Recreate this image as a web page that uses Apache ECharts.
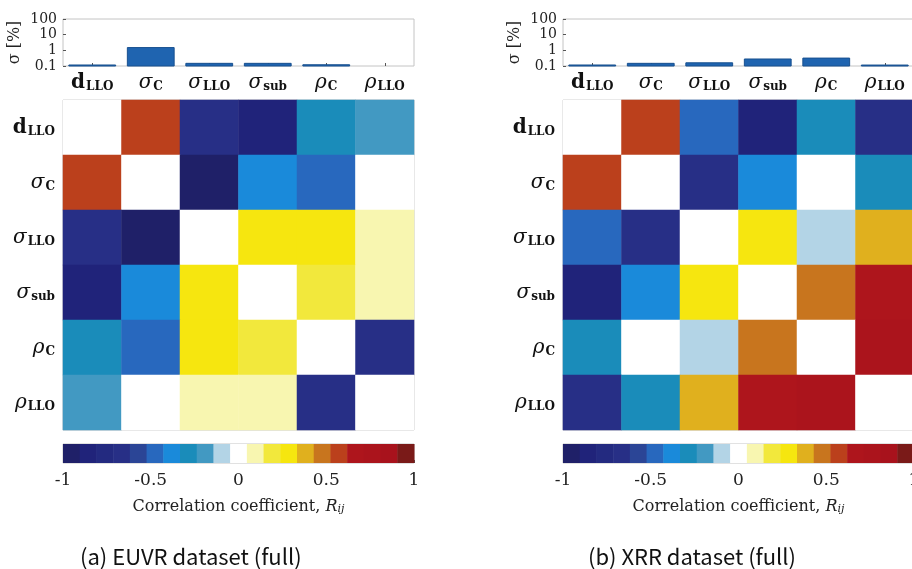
<!DOCTYPE html>
<html>
<head>
<meta charset="utf-8">
<script src="https://cdn.jsdelivr.net/npm/echarts@6/dist/echarts.min.js"></script>
<style>
  html, body { margin: 0; padding: 0; background: #fff; }
  #main { width: 912px; height: 569px; }
</style>
</head>
<body>
<div id="main"></div>
<script>
// parameter names (order of rows / columns)
var paramNames = ['dLLO', 'sigmaC', 'sigmaLLO', 'sigmaSub', 'rhoC', 'rhoLLO'];

// fitted uncertainty sigma [%]
var sigmaEUVR = [0.116, 1.5, 0.148, 0.148, 0.12, 0.1];
var sigmaXRR = [0.116, 0.148, 0.16, 0.28, 0.32, 0.115];

// correlation matrices (row = y, col = x), diagonal shown blank
var corrEUVR = [
  [0, 0.57, -0.67, -0.86, -0.29, -0.19],
  [0.57, 0, -0.95, -0.38, -0.48, 0],
  [-0.67, -0.95, 0, 0.29, 0.29, 0.1],
  [-0.86, -0.38, 0.29, 0, 0.19, 0.1],
  [-0.29, -0.48, 0.29, 0.19, 0, -0.67],
  [-0.19, 0, 0.1, 0.1, -0.67, 0]
];
var corrXRR = [
  [0, 0.57, -0.48, -0.86, -0.29, -0.67],
  [0.57, 0, -0.67, -0.38, 0, -0.29],
  [-0.48, -0.67, 0, 0.29, -0.1, 0.38],
  [-0.86, -0.38, 0.29, 0, 0.48, 0.67],
  [-0.29, 0, -0.1, 0.48, 0, 0.76],
  [-0.67, -0.29, 0.38, 0.67, 0.76, 0]
];

var sigmaTicks = [0.1, 1, 10, 100];
var colorTicks = [-1, -0.5, 0, 0.5, 1];

// 21-step diverging colour map, -1 .. 1
var palette = ['#1f2068', '#20237a', '#232a80', '#272f86', '#2b4596', '#2868be', '#1a8ada',
  '#1a8cba', '#4299c2', '#b3d4e6', '#ffffff', '#f8f6b0', '#f2e83c', '#f6e60f', '#e0b01e',
  '#c8751e', '#bb401c', '#ae151c', '#ab141c', '#a8121c', '#7a1a18'];
var nBins = palette.length;
var binW = 2 / nBins;

var pieces = palette.map(function (c, k) {
  return { min: -1 + k * binW, max: -1 + (k + 1) * binW, color: c };
});
var cbData = palette.map(function (c, k) {
  return [-1 + k * binW, -1 + (k + 1) * binW, k];
});

var serif = '"DejaVu Serif", "Liberation Serif", serif';
var labelRich = {
  dLLO: '{b|d}{bs|LLO}',
  sigmaC: '{m|σ}{s|C}',
  sigmaLLO: '{m|σ}{s|LLO}',
  sigmaSub: '{m|σ}{s|sub}',
  rhoC: '{m|ρ}{s|C}',
  rhoLLO: '{m|ρ}{s|LLO}'
};
var rich = {
  b: { fontFamily: serif, fontSize: 20, fontWeight: 'bold', color: '#111', verticalAlign: 'bottom' },
  bs: { fontFamily: serif, fontSize: 12, fontWeight: 'bold', color: '#111', verticalAlign: 'bottom', padding: [9, 0, 0, 1] },
  m: { fontFamily: serif, fontSize: 20, fontStyle: 'italic', color: '#111', verticalAlign: 'bottom' },
  s: { fontFamily: serif, fontSize: 12, fontWeight: 'bold', color: '#111', verticalAlign: 'bottom', padding: [9, 0, 0, 1] }
};
function fmtParam(v) { return labelRich[v]; }

var frameColor = '#c4c4c4';
var panels = [
  { left: 63, sigma: sigmaEUVR, corr: corrEUVR, caption: '(a) EUVR dataset (full)', capX: 75 },
  { left: 563, sigma: sigmaXRR, corr: corrXRR, caption: '(b) XRR dataset (full)', capX: 583 }
];
var W = 351;

function gridOf(left, top, h) {
  return {
    left: left, top: top, width: W, height: h, show: true, outerBoundsMode: 'none', containLabel: false,
    borderColor: frameColor, borderWidth: 1, backgroundColor: 'transparent'
  };
}

var grids = [], xAxes = [], yAxes = [], series = [], titles = [], heatIdx = [];
panels.forEach(function (p, i) {
  var g = i * 3;
  grids.push(gridOf(p.left, 19, 47), gridOf(p.left, 100, 330), gridOf(p.left, 444, 19));
  // bar chart axes
  xAxes.push({
    gridIndex: g, type: 'category', data: paramNames,
    axisLine: { show: false }, axisTick: { show: true, inside: true, alignWithLabel: true, length: 3, lineStyle: { color: '#555' } },
    axisLabel: { formatter: fmtParam, rich: rich, margin: 6, interval: 0 }
  });
  yAxes.push({
    gridIndex: g, type: 'log', logBase: 10, min: 0.1, max: 100,
    name: 'σ [%]', nameLocation: 'middle', nameGap: 40, nameRotate: 90,
    nameTextStyle: { fontFamily: serif, fontSize: 16, color: '#222' },
    axisLine: { show: false }, splitLine: { show: false },
    axisTick: { show: true, inside: true, length: 3, lineStyle: { color: '#555' } },
    axisLabel: {
      fontFamily: serif, fontSize: 14, color: '#222', margin: 6, showMinLabel: true,
      formatter: function (v) { var t = +(+v).toPrecision(3); return sigmaTicks.indexOf(t) >= 0 ? String(t) : ''; }
    }
  });
  series.push({
    type: 'custom', xAxisIndex: g, yAxisIndex: g, silent: true,
    data: p.sigma.map(function (v, k) { return [k, v]; }),
    renderItem: function (params, api) {
      var top = api.coord([api.value(0), api.value(1)]);
      var base = api.coord([api.value(0), 0.1]);
      var bw = api.size([1, 1])[0] * 0.8;
      if (base[1] - top[1] < 0.5) return null;
      return {
        type: 'rect',
        shape: { x: top[0] - bw / 2, y: top[1], width: bw, height: base[1] - top[1] },
        style: { fill: '#1f64b0', stroke: '#18508f', lineWidth: 1 }
      };
    }
  });
  // heatmap axes
  xAxes.push({
    gridIndex: g + 1, type: 'category', data: paramNames,
    axisLine: { show: false }, axisLabel: { show: false },
    axisTick: { show: true, inside: true, alignWithLabel: true, length: 4, lineStyle: { color: '#666' } }
  });
  yAxes.push({
    gridIndex: g + 1, type: 'category', data: paramNames, inverse: true,
    axisLine: { show: false },
    axisTick: { show: true, inside: true, alignWithLabel: true, length: 4, lineStyle: { color: '#666' } },
    axisLabel: { formatter: fmtParam, rich: rich, margin: 8 }
  });
  var hdata = [];
  p.corr.forEach(function (row, r) {
    row.forEach(function (v, c) { hdata.push([c, r, v]); });
  });
  heatIdx.push(series.length);
  series.push({
    type: 'heatmap', xAxisIndex: g + 1, yAxisIndex: g + 1, data: hdata,
    itemStyle: { borderWidth: 0 }, silent: true
  });
  // colour bar axes
  xAxes.push({
    gridIndex: g + 2, type: 'value', min: -1, max: 1, interval: 0.5,
    name: 'Correlation coefficient, {i|R}{is|ij}', nameLocation: 'middle', nameGap: 35,
    nameTextStyle: {
      fontFamily: serif, fontSize: 16, color: '#222',
      rich: {
        i: { fontFamily: serif, fontSize: 16, fontStyle: 'italic', color: '#222', verticalAlign: 'bottom' },
        is: { fontFamily: serif, fontSize: 11, fontStyle: 'italic', color: '#222', verticalAlign: 'bottom', padding: [6, 0, 0, 0] }
      }
    },
    axisLine: { show: false }, splitLine: { show: false },
    axisTick: { show: true, inside: true, length: 3, lineStyle: { color: '#555' } },
    axisLabel: {
      fontFamily: serif, fontSize: 17, color: '#222', margin: 9, showMaxLabel: true, showMinLabel: true,
      formatter: function (v) { return colorTicks.indexOf(v) >= 0 ? String(v) : ''; }
    }
  });
  yAxes.push({ gridIndex: g + 2, type: 'value', min: 0, max: 1, show: false });
  series.push({
    type: 'custom', xAxisIndex: g + 2, yAxisIndex: g + 2, data: cbData, silent: true,
    renderItem: function (params, api) {
      var a = api.coord([api.value(0), 1]);
      var b = api.coord([api.value(1), 0]);
      return {
        type: 'rect',
        shape: { x: a[0], y: a[1], width: b[0] - a[0] + 0.5, height: b[1] - a[1] },
        style: { fill: palette[api.value(2)] }
      };
    }
  });
  titles.push({
    text: p.caption, left: p.capX, top: 541,
    textStyle: { fontFamily: '"Noto Sans CJK KR", "Noto Sans", sans-serif', fontSize: 22, fontWeight: 'normal', color: '#111' }
  });
});

var chart = echarts.init(document.getElementById('main'), null, { renderer: 'canvas' });
chart.setOption({
  animation: false,
  backgroundColor: '#fff',
  title: titles,
  grid: grids,
  xAxis: xAxes,
  yAxis: yAxes,
  visualMap: {
    type: 'piecewise', show: false, seriesIndex: heatIdx, dimension: 2, pieces: pieces
  },
  series: series
});
</script>
</body>
</html>
